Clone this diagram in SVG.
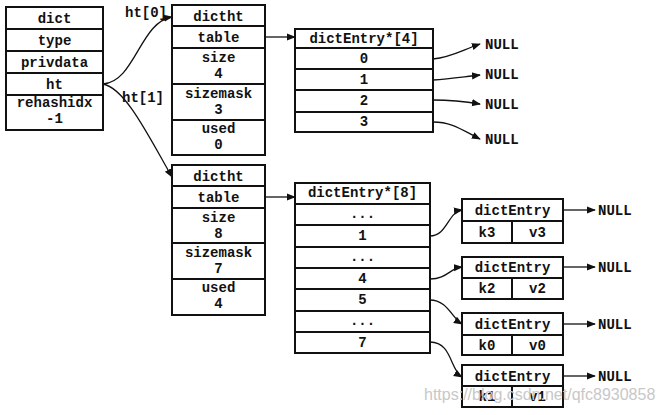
<svg xmlns="http://www.w3.org/2000/svg" width="663" height="415" viewBox="0 0 663 415">
<style>
rect, line.c { fill: #fff; stroke: #111; stroke-width: 2; }
line.d { stroke: #111; stroke-width: 2; }
text { font-family: "Liberation Mono", "DejaVu Sans Mono", monospace; font-size: 14px; font-weight: bold; fill: #111; text-anchor: middle; }
text.l { text-anchor: start; }
.conn path, .conn line { fill: none; stroke: #111; stroke-width: 1.3; marker-end: url(#ah); }
text.wm { font-family: "Liberation Sans", Arial, sans-serif; font-weight: normal; font-size: 16px; fill: #c8c8c8; text-anchor: start; }
</style>
<defs>
<marker id="ah" viewBox="0 0 10 10" refX="9" refY="5" markerWidth="9" markerHeight="9" markerUnits="userSpaceOnUse" orient="auto">
<path d="M0,1 L10,5 L0,9 Z" fill="#111"/>
</marker>
</defs>
<rect x="0" y="0" width="663" height="415" style="fill:#fff;stroke:none"/>

<g id="dict">
<rect x="6" y="7" width="97" height="123"/>
<line class="d" x1="6" y1="29" x2="103" y2="29"/>
<line class="d" x1="6" y1="51" x2="103" y2="51"/>
<line class="d" x1="6" y1="73" x2="103" y2="73"/>
<line class="d" x1="6" y1="95" x2="103" y2="95"/>
<text x="54.5" y="23">dict</text>
<text x="54.5" y="45">type</text>
<text x="54.5" y="67">privdata</text>
<text x="54.5" y="89">ht</text>
<text x="54.5" y="107">rehashidx</text>
<text x="54.5" y="123">-1</text>
</g>

<g id="dictht0">
<rect x="172" y="5" width="93" height="150"/>
<line class="d" x1="172" y1="26" x2="265" y2="26"/>
<line class="d" x1="172" y1="48" x2="265" y2="48"/>
<line class="d" x1="172" y1="84" x2="265" y2="84"/>
<line class="d" x1="172" y1="120" x2="265" y2="120"/>
<text x="218.5" y="21">dictht</text>
<text x="218.5" y="42">table</text>
<text x="218.5" y="62">size</text>
<text x="218.5" y="78">4</text>
<text x="218.5" y="98">sizemask</text>
<text x="218.5" y="114">3</text>
<text x="218.5" y="133">used</text>
<text x="218.5" y="149">0</text>
</g>

<g id="table4">
<rect x="295" y="29" width="138" height="103"/>
<line class="d" x1="295" y1="48" x2="433" y2="48"/>
<line class="d" x1="295" y1="69" x2="433" y2="69"/>
<line class="d" x1="295" y1="90" x2="433" y2="90"/>
<line class="d" x1="295" y1="112" x2="433" y2="112"/>
<text x="364" y="43">dictEntry*[4]</text>
<text x="364" y="63">0</text>
<text x="364" y="84">1</text>
<text x="364" y="105">2</text>
<text x="364" y="126">3</text>
</g>

<g id="null4">
<text class="l" x="485" y="49">NULL</text>
<text class="l" x="485" y="79">NULL</text>
<text class="l" x="485" y="109">NULL</text>
<text class="l" x="485" y="144">NULL</text>
</g>

<g id="dictht1">
<rect x="172" y="165" width="93" height="150"/>
<line class="d" x1="172" y1="186" x2="265" y2="186"/>
<line class="d" x1="172" y1="208" x2="265" y2="208"/>
<line class="d" x1="172" y1="243" x2="265" y2="243"/>
<line class="d" x1="172" y1="279" x2="265" y2="279"/>
<text x="218.5" y="181">dictht</text>
<text x="218.5" y="202">table</text>
<text x="218.5" y="222">size</text>
<text x="218.5" y="238">8</text>
<text x="218.5" y="257">sizemask</text>
<text x="218.5" y="273">7</text>
<text x="218.5" y="292">used</text>
<text x="218.5" y="308">4</text>
</g>

<g id="table8">
<rect x="295" y="183" width="135" height="170"/>
<line class="d" x1="295" y1="204" x2="430" y2="204"/>
<line class="d" x1="295" y1="225" x2="430" y2="225"/>
<line class="d" x1="295" y1="247" x2="430" y2="247"/>
<line class="d" x1="295" y1="268" x2="430" y2="268"/>
<line class="d" x1="295" y1="289" x2="430" y2="289"/>
<line class="d" x1="295" y1="311" x2="430" y2="311"/>
<line class="d" x1="295" y1="332" x2="430" y2="332"/>
<text x="362.5" y="197">dictEntry*[8]</text>
<text x="362.5" y="218">...</text>
<text x="362.5" y="240">1</text>
<text x="362.5" y="261">...</text>
<text x="362.5" y="283">4</text>
<text x="362.5" y="304">5</text>
<text x="362.5" y="325">...</text>
<text x="362.5" y="347">7</text>
</g>

<g id="entry3">
<rect x="462" y="199" width="101" height="44"/>
<line class="d" x1="462" y1="221" x2="563" y2="221"/>
<line class="d" x1="512" y1="221" x2="512" y2="243"/>
<text x="512.5" y="215">dictEntry</text>
<text x="487" y="237">k3</text>
<text x="537.5" y="237">v3</text>
</g>
<g id="entry2">
<rect x="462" y="257" width="101" height="42"/>
<line class="d" x1="462" y1="278" x2="563" y2="278"/>
<line class="d" x1="512" y1="278" x2="512" y2="299"/>
<text x="512.5" y="272">dictEntry</text>
<text x="487" y="293">k2</text>
<text x="537.5" y="293">v2</text>
</g>
<g id="entry0">
<rect x="462" y="313" width="101" height="42"/>
<line class="d" x1="462" y1="335" x2="563" y2="335"/>
<line class="d" x1="512" y1="335" x2="512" y2="355"/>
<text x="512.5" y="329">dictEntry</text>
<text x="487" y="350">k0</text>
<text x="537.5" y="350">v0</text>
</g>
<g id="entry1">
<rect x="462" y="365" width="101" height="42"/>
<line class="d" x1="462" y1="386" x2="563" y2="386"/>
<line class="d" x1="512" y1="386" x2="512" y2="407"/>
<text x="512.5" y="381">dictEntry</text>
<text x="487" y="401">k1</text>
<text x="537.5" y="401">v1</text>
</g>

<g id="null8">
<text class="l" x="598" y="215">NULL</text>
<text class="l" x="598" y="272">NULL</text>
<text class="l" x="598" y="329">NULL</text>
<text class="l" x="598" y="381">NULL</text>
</g>

<g id="labels">
<text class="l" x="125" y="17">ht[0]</text>
<text class="l" x="122" y="102">ht[1]</text>
</g>

<g class="conn">
<path d="M103,84 C135,82 140,22 172,17"/>
<path d="M103,84 C125,88 148,135 172,177"/>
<line x1="265" y1="37" x2="295" y2="37"/>
<line x1="265" y1="197" x2="295" y2="197"/>
<path d="M433,59 C452,57 462,50 480,44"/>
<path d="M433,80 C450,79 462,77 480,75"/>
<path d="M433,100 C450,100 462,101 480,104"/>
<path d="M433,122 C452,122 462,130 480,139"/>
<path d="M430,236 C447,236 448,212 462,210"/>
<path d="M430,279 C447,279 450,268 462,267"/>
<path d="M430,300 C447,300 452,318 462,324"/>
<path d="M430,342 C452,342 450,370 462,377"/>
<line x1="563" y1="210" x2="595" y2="210"/>
<line x1="563" y1="267" x2="595" y2="267"/>
<line x1="563" y1="324" x2="595" y2="324"/>
<line x1="563" y1="376" x2="595" y2="376"/>
</g>

<text class="wm" x="424" y="400">https://blog.csdn.net/qfc8930858</text>
</svg>
